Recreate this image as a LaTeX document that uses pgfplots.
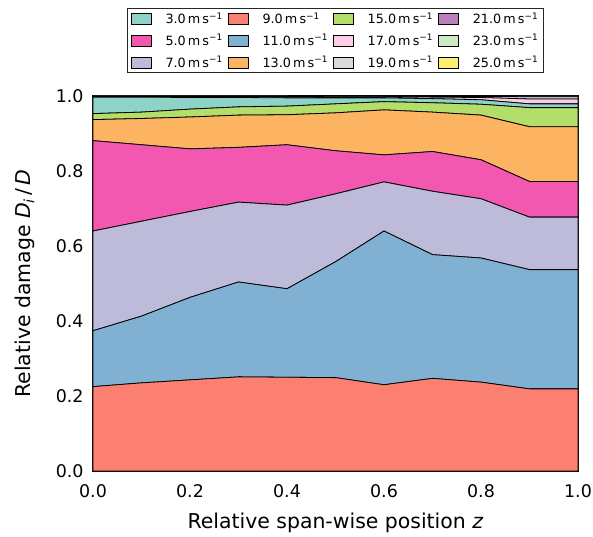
\documentclass[border=0pt]{standalone}
\usepackage{fontspec}
\setmainfont{DejaVu Sans}
\usepackage{pgfplots}
\usepackage{pgfplotstable}
\pgfplotsset{compat=1.18}
\definecolor{c3}{HTML}{8DD3C7}
\definecolor{c5}{HTML}{F358B0}
\definecolor{c7}{HTML}{BEBADA}
\definecolor{c9}{HTML}{FB8072}
\definecolor{c11}{HTML}{80B1D3}
\definecolor{c13}{HTML}{FDB462}
\definecolor{c15}{HTML}{B3DE69}
\definecolor{c17}{HTML}{FCCDE5}
\definecolor{c19}{HTML}{D9D9D9}
\definecolor{c21}{HTML}{BC80BD}
\definecolor{c23}{HTML}{CCEBC5}
\definecolor{c25}{HTML}{FFED6F}
\pgfplotstableread{
x   s9    s11   s7    s5    s13   s15   s3    s17   s19   s21    s23    s25
0.0 0.225 0.149 0.266 0.241 0.056 0.016 0.044 0.002 0.001 0      0      0
0.1 0.235 0.178 0.253 0.204 0.070 0.017 0.040 0.002 0.001 0      0      0
0.2 0.243 0.220 0.229 0.167 0.085 0.021 0.031 0.003 0.001 0      0      0
0.3 0.251 0.253 0.213 0.146 0.086 0.022 0.025 0.003 0.001 0      0      0
0.4 0.250 0.236 0.223 0.161 0.080 0.023 0.022 0.004 0.001 0      0      0
0.5 0.249 0.309 0.181 0.115 0.101 0.024 0.016 0.003 0.001 0.0005 0.0003 0.0002
0.6 0.230 0.410 0.131 0.072 0.120 0.022 0.010 0.003 0.001 0.0005 0.0003 0.0002
0.7 0.247 0.330 0.169 0.106 0.105 0.025 0.011 0.004 0.002 0.0005 0.0003 0.0002
0.8 0.237 0.331 0.158 0.104 0.119 0.029 0.012 0.006 0.003 0.0005 0.0003 0.0002
0.9 0.219 0.318 0.140 0.095 0.146 0.051 0.010 0.013 0.006 0.001  0.0005 0.0005
1.0 0.219 0.318 0.140 0.095 0.146 0.051 0.010 0.013 0.006 0.001  0.0005 0.0005
}\data
\begin{document}
\begin{tikzpicture}
\path[use as bounding box] (-93bp,-66bp) rectangle (500bp,471bp);
\begin{axis}[
  at={(0,0)}, anchor=south west,
  scale only axis, width=485bp, height=375bp,
  xmin=0, xmax=1, ymin=0, ymax=1,
  stack plots=y,
  xtick={0,0.2,0.4,0.6,0.8,1.0},
  ytick={0,0.2,0.4,0.6,0.8,1.0},
  tick pos=both, tick align=inside,
  major tick length=10bp,
  every tick/.style={black, line width=0.9pt},
  axis line style={line width=1.2pt},
  /pgf/number format/assume math mode=true,
  /pgf/number format/.cd, fixed, fixed zerofill, precision=1, /pgfplots/.cd,
  ticklabel style={font=\fontsize{17.5}{20}\selectfont},
  xticklabel style={yshift=-10bp},
  yticklabel style={xshift=-6bp},
  xlabel={Relative span-wise position \textit{z}},
  ylabel={Relative damage \textit{D}\textsubscript{\textit{i}}\,/\,\textit{D}},
  label style={font=\fontsize{20.5}{24}\selectfont},
  xlabel style={at={(axis description cs:0.5,-0.139)}, anchor=center},
  ylabel style={at={(axis description cs:-0.140,0.5)}, anchor=center},
  legend columns=4,
  legend cell align=left,
  legend image code/.code={\fill[#1] (0bp,-5.5bp) rectangle (20bp,5.5bp);},
  legend style={at={(axis description cs:0.5,1.0613)}, anchor=south,
    draw=black!85, line width=0.8pt,
    font=\fontsize{12.8}{14}\selectfont,
    row sep=5.5bp, inner xsep=3bp, inner ysep=2bp,
    /tikz/every even column/.append style={column sep=3bp},
    /tikz/every odd column/.append style={column sep=12bp}},
]
\addplot[fill=c9, draw=black, line width=0.8pt, forget plot] table[x=x,y=s9]{\data} \closedcycle;
\addplot[fill=c11, draw=black, line width=0.8pt, forget plot] table[x=x,y=s11]{\data} \closedcycle;
\addplot[fill=c7, draw=black, line width=0.8pt, forget plot] table[x=x,y=s7]{\data} \closedcycle;
\addplot[fill=c5, draw=black, line width=0.8pt, forget plot] table[x=x,y=s5]{\data} \closedcycle;
\addplot[fill=c13, draw=black, line width=0.8pt, forget plot] table[x=x,y=s13]{\data} \closedcycle;
\addplot[fill=c15, draw=black, line width=0.8pt, forget plot] table[x=x,y=s15]{\data} \closedcycle;
\addplot[fill=c3, draw=black, line width=0.8pt, forget plot] table[x=x,y=s3]{\data} \closedcycle;
\addplot[fill=c17, draw=black, line width=0.8pt, forget plot] table[x=x,y=s17]{\data} \closedcycle;
\addplot[fill=c19, draw=black, line width=0.8pt, forget plot] table[x=x,y=s19]{\data} \closedcycle;
\addplot[fill=c21, draw=black, line width=0.8pt, forget plot] table[x=x,y=s21]{\data} \closedcycle;
\addplot[fill=c23, draw=black, line width=0.8pt, forget plot] table[x=x,y=s23]{\data} \closedcycle;
\addplot[fill=c25, draw=black, line width=0.8pt, forget plot] table[x=x,y=s25]{\data} \closedcycle;
\addlegendimage{fill=c3}\addlegendentry{3.0\,m\,s\textsuperscript{−1}}
\addlegendimage{fill=c9}\addlegendentry{9.0\,m\,s\textsuperscript{−1}}
\addlegendimage{fill=c15}\addlegendentry{15.0\,m\,s\textsuperscript{−1}}
\addlegendimage{fill=c21}\addlegendentry{21.0\,m\,s\textsuperscript{−1}}
\addlegendimage{fill=c5}\addlegendentry{5.0\,m\,s\textsuperscript{−1}}
\addlegendimage{fill=c11}\addlegendentry{11.0\,m\,s\textsuperscript{−1}}
\addlegendimage{fill=c17}\addlegendentry{17.0\,m\,s\textsuperscript{−1}}
\addlegendimage{fill=c23}\addlegendentry{23.0\,m\,s\textsuperscript{−1}}
\addlegendimage{fill=c7}\addlegendentry{7.0\,m\,s\textsuperscript{−1}}
\addlegendimage{fill=c13}\addlegendentry{13.0\,m\,s\textsuperscript{−1}}
\addlegendimage{fill=c19}\addlegendentry{19.0\,m\,s\textsuperscript{−1}}
\addlegendimage{fill=c25}\addlegendentry{25.0\,m\,s\textsuperscript{−1}}
\end{axis}
\end{tikzpicture}
\end{document}
